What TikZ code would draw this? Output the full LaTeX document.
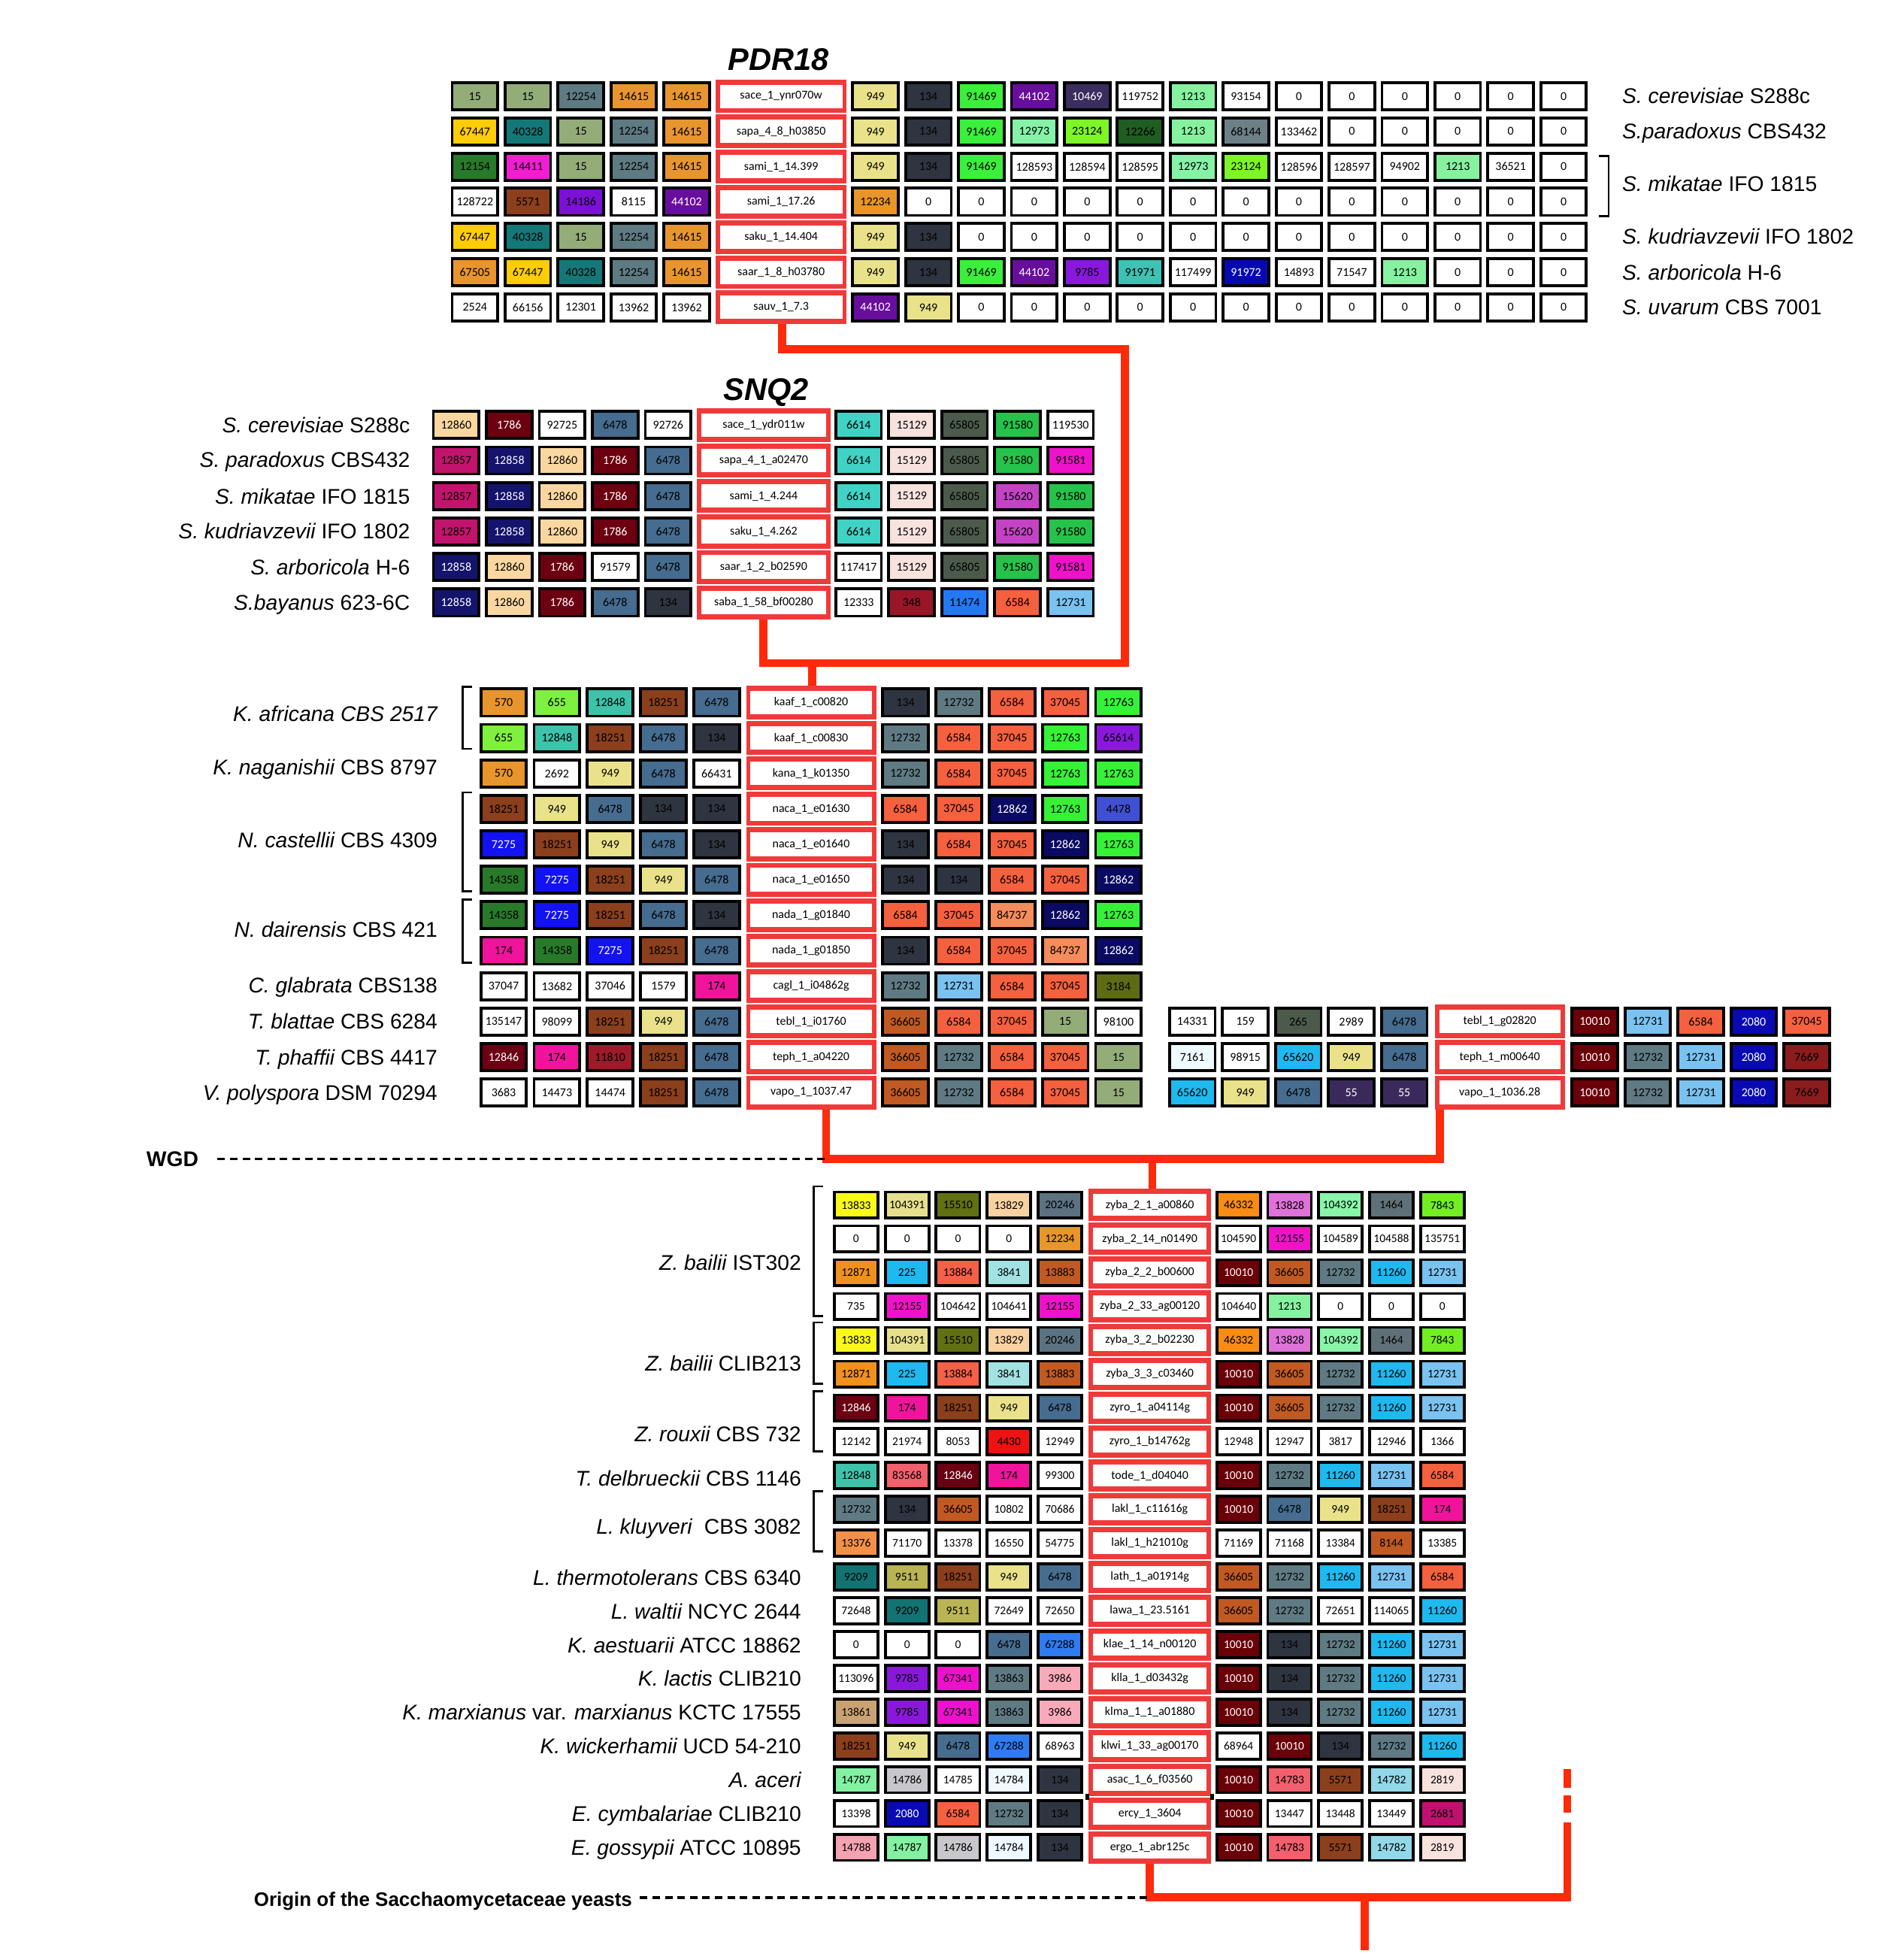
\documentclass[tikz,border=0pt]{standalone}
\usepackage{fontspec}
\setmainfont{Liberation Sans}
\newfontfamily\cellfont{Carlito}
\makeatletter
\newcommand\setc[2]{\expandafter\def\csname cc@#1\endcsname{#2}}
\newcommand\setw[2]{\setc{#1}{#2}\expandafter\def\csname cw@#1\endcsname{}}
\newcommand\pickcol[1]{%
  \ifcsname cc@#1\endcsname
    \edef\pcx{\noexpand\definecolor{cfill}{HTML}{\csname cc@#1\endcsname}}\pcx
  \else\definecolor{cfill}{HTML}{FFFFFF}\fi
  \ifcsname cw@#1\endcsname\def\tcol{white}\else\def\tcol{black}\fi}
\makeatother
% colours of the gene families
\setc{15}{93AC78}\setc{12254}{5E7A82}\setc{14615}{E89530}\setc{949}{EAE28A}
\setc{134}{2E3440}\setc{91469}{3AF03A}\setw{44102}{680E9C}\setw{10469}{3B2D5E}
\setc{1213}{86F2A0}\setc{67447}{FFCC08}\setc{40328}{147878}\setc{12973}{86F2A8}
\setc{23124}{7EF526}\setc{12266}{1F5E20}\setc{68144}{6E8087}\setc{12154}{277A2A}
\setc{14411}{F01ED2}\setc{5571}{8C3F1C}\setc{14186}{7C10D4}\setc{12234}{E8952A}
\setc{67505}{E8952D}\setc{9785}{8A18DC}\setc{91971}{3DC2B4}\setw{91972}{0808B0}
\setc{12860}{FAD7A0}\setw{1786}{6C0010}\setc{6478}{466C8F}\setc{6614}{40D2C4}
\setc{15129}{F8E2DE}\setc{65805}{4B5A4A}\setc{91580}{26C24C}\setc{12857}{C2146C}
\setw{12858}{14146C}\setc{91581}{EF12CA}\setc{15620}{C443C4}\setc{348}{981628}
\setc{11474}{2479F2}\setc{6584}{F5603F}\setc{12731}{7AC2F0}\setc{570}{E8952D}
\setc{655}{7EF03E}\setc{12848}{3EC2AA}\setc{18251}{8B3F1C}\setc{12732}{5F7A82}
\setc{37045}{F5603F}\setc{12763}{36F236}\setc{65614}{8A18DC}\setw{12862}{0A0A62}
\setc{4478}{4050D2}\setw{7275}{1212F2}\setc{14358}{287A2A}\setc{84737}{F58C5C}
\setc{174}{F0149C}\setc{3184}{5D6C14}\setc{36605}{C05A22}\setw{12846}{6A0012}
\setc{11810}{A0192A}\setc{265}{4B5A4A}\setc{7161}{EEFAFF}\setc{65620}{1EB9EE}
\setw{55}{3A2A5C}\setw{10010}{6A0008}\setw{2080}{0A0AB4}\setc{7669}{8B1C1E}
\setc{13833}{F8F81A}\setc{104391}{E6E08C}\setc{15510}{607012}\setc{13829}{FAD2A2}
\setc{20246}{5B7282}\setc{46332}{F88C14}\setc{13828}{DE72D8}\setc{104392}{88F5A8}
\setc{1464}{5F7079}\setc{7843}{72EE22}\setc{12155}{F012CA}\setc{12871}{F0901E}
\setc{225}{1EB9EE}\setc{13884}{F56048}\setc{3841}{A2E2E2}\setc{13883}{C05A22}
\setc{11260}{1EB9EE}\setc{4430}{F01212}\setc{83568}{F2606E}\setc{13376}{F29048}
\setc{8144}{C05A22}\setc{9209}{137272}\setc{9511}{BAB454}\setc{67288}{2F7BF0}
\setc{67341}{EE10CC}\setc{13863}{5F7A82}\setc{3986}{F8AABA}\setc{13861}{C9A274}
\setc{14787}{82F2A2}\setc{14786}{C8C8CC}\setc{14784}{EEFAFF}\setc{14783}{F2606E}
\setc{14782}{92D8E8}\setc{2819}{F8E2DE}\setc{2681}{C01070}\setc{14788}{F4A2B2}
\definecolor{geneRed}{HTML}{EF3A3A}
\definecolor{lineRed}{HTML}{FF2A0A}
\tikzset{
  cellA/.style={draw=black, line width=2.3pt, minimum width=36.5pt, minimum height=21.7pt,
    inner sep=0pt, outer sep=0pt, font=\cellfont\fontsize{9.6}{10}\selectfont},
  cellB/.style={draw=black, line width=2.3pt, minimum width=34.9pt, minimum height=20.7pt,
    inner sep=0pt, outer sep=0pt, font=\cellfont\fontsize{9.3}{10}\selectfont},
  genered/.style={fill=geneRed, draw=none, inner sep=0pt, outer sep=0pt},
  genewhite/.style={fill=white, draw=none, inner sep=0pt, outer sep=0pt,
    font=\cellfont\fontsize{9.6}{10}\selectfont},
  redline/.style={draw=lineRed, line width=6.5pt, line join=miter, line cap=butt},
  dashline/.style={draw=black, line width=2pt, dash pattern=on 6pt off 4pt},
  brk/.style={draw=black, line width=1.6pt},
  lab/.style={font=\fontsize{17}{20}\selectfont, inner sep=0pt, outer sep=0pt},
  ttl/.style={font=\bfseries\itshape\fontsize{25}{30}\selectfont, inner sep=0pt},
  boldlab/.style={font=\bfseries\fontsize{17}{20}\selectfont, inner sep=0pt},
}
\newcommand\cells[5]{%
  \foreach \v [count=\i from 0] in {#5} {%
    \pickcol{\v}%
    \node[cur, fill=cfill, text=\tcol] (#1-\i) at ({#2+\i*#4}, #3) {\v};
  }}
\newcommand\gene[6]{%
  \node[genered, minimum width=#4, minimum height=#5-1.2] (#1) at (#2,#3) {};
  \node[genewhite, minimum width=#4-7, minimum height=#5-9.5] (#1w) at (#2,#3) {#6};}
\newcommand\brow[5]{%
  \cells{#1L}{\xL}{#2}{\px}{#3}%
  \gene{#1}{\xG}{#2}{\gw}{\py}{#4}%
  \cells{#1R}{\xR}{#2}{\px}{#5}}
\newcommand\lbr[3]{\draw[brk] (#1+7.5,#2) -- (#1,#2) -- (#1,#3) -- (#1+7.5,#3);}
\begin{document}
\begin{tikzpicture}[x=1pt,y=-1pt]
\useasboundingbox (0,0) rectangle (1504,1568);
\fill[white] (0,0) rectangle (1504,1568);

% ---------------- PDR18 ----------------
\node[ttl, anchor=base] (tP) at (623,56) {PDR18};
\tikzset{cur/.style={cellA}}
\def\xL{380}\def\xG{625}\def\xR{700.5}\def\px{42.35}\def\gw{105}\def\py{28.15}
\brow{gP1}{77}{15,15,12254,14615,14615}{sace\_1\_ynr070w}{949,134,91469,44102,10469,119752,1213,93154,0,0,0,0,0,0}
\brow{gP2}{105.15}{67447,40328,15,12254,14615}{sapa\_4\_8\_h03850}{949,134,91469,12973,23124,12266,1213,68144,133462,0,0,0,0,0}
\brow{gP3}{133.3}{12154,14411,15,12254,14615}{sami\_1\_14.399}{949,134,91469,128593,128594,128595,12973,23124,128596,128597,94902,1213,36521,0}
\brow{gP4}{161.45}{128722,5571,14186,8115,44102}{sami\_1\_17.26}{12234,0,0,0,0,0,0,0,0,0,0,0,0,0}
\brow{gP5}{189.6}{67447,40328,15,12254,14615}{saku\_1\_14.404}{949,134,0,0,0,0,0,0,0,0,0,0,0,0}
\brow{gP6}{217.75}{67505,67447,40328,12254,14615}{saar\_1\_8\_h03780}{949,134,91469,44102,9785,91971,117499,91972,14893,71547,1213,0,0,0}
\brow{gP7}{245.9}{2524,66156,12301,13962,13962}{sauv\_1\_7.3}{44102,949,0,0,0,0,0,0,0,0,0,0,0,0}
\node[lab, anchor=base west] (lP1) at (1298,83) {{\itshape S. cerevisiae} S288c};
\node[lab, anchor=base west] (lP2) at (1298,111) {{\itshape S.paradoxus} CBS432};
\node[lab, anchor=base west] (lP3) at (1298,153) {{\itshape S. mikatae} IFO 1815};
\node[lab, anchor=base west] (lP4) at (1298,195) {{\itshape S. kudriavzevii} IFO 1802};
\node[lab, anchor=base west] (lP5) at (1298,224) {{\itshape S. arboricola} H-6};
\node[lab, anchor=base west] (lP6) at (1298,252) {{\itshape S. uvarum} CBS 7001};
\draw[brk] (1279,125) -- (1287,125) -- (1287,173) -- (1279,173);

% ---------------- SNQ2 ----------------
\node[ttl, anchor=base] (tS) at (613,320) {SNQ2};
\def\xL{365}\def\xG{611}\def\xR{687}\def\px{42.4}\def\gw{107}\def\py{28.4}
\brow{gS1}{340}{12860,1786,92725,6478,92726}{sace\_1\_ydr011w}{6614,15129,65805,91580,119530}
\brow{gS2}{368.4}{12857,12858,12860,1786,6478}{sapa\_4\_1\_a02470}{6614,15129,65805,91580,91581}
\brow{gS3}{396.8}{12857,12858,12860,1786,6478}{sami\_1\_4.244}{6614,15129,65805,15620,91580}
\brow{gS4}{425.2}{12857,12858,12860,1786,6478}{saku\_1\_4.262}{6614,15129,65805,15620,91580}
\brow{gS5}{453.6}{12858,12860,1786,91579,6478}{saar\_1\_2\_b02590}{117417,15129,65805,91580,91581}
\brow{gS6}{482}{12858,12860,1786,6478,134}{saba\_1\_58\_bf00280}{12333,348,11474,6584,12731}
\node[lab, anchor=base east] (lS1) at (328,346) {{\itshape S. cerevisiae} S288c};
\node[lab, anchor=base east] (lS2) at (328,374) {{\itshape S. paradoxus} CBS432};
\node[lab, anchor=base east] (lS3) at (328,403) {{\itshape S. mikatae} IFO 1815};
\node[lab, anchor=base east] (lS4) at (328,431) {{\itshape S. kudriavzevii} IFO 1802};
\node[lab, anchor=base east] (lS5) at (328,460) {{\itshape S. arboricola} H-6};
\node[lab, anchor=base east] (lS6) at (328,488) {{\itshape S.bayanus} 623-6C};

% ---------------- pre-WGD / post-WGD block ----------------
\def\xL{403}\def\xG{649}\def\xR{724.5}\def\px{42.6}\def\gw{104}\def\py{28.36}
\brow{gM1}{562}{570,655,12848,18251,6478}{kaaf\_1\_c00820}{134,12732,6584,37045,12763}
\brow{gM2}{590.36}{655,12848,18251,6478,134}{kaaf\_1\_c00830}{12732,6584,37045,12763,65614}
\brow{gM3}{618.72}{570,2692,949,6478,66431}{kana\_1\_k01350}{12732,6584,37045,12763,12763}
\brow{gM4}{647.08}{18251,949,6478,134,134}{naca\_1\_e01630}{6584,37045,12862,12763,4478}
\brow{gM5}{675.44}{7275,18251,949,6478,134}{naca\_1\_e01640}{134,6584,37045,12862,12763}
\brow{gM6}{703.8}{14358,7275,18251,949,6478}{naca\_1\_e01650}{134,134,6584,37045,12862}
\brow{gM7}{732.16}{14358,7275,18251,6478,134}{nada\_1\_g01840}{6584,37045,84737,12862,12763}
\brow{gM8}{760.52}{174,14358,7275,18251,6478}{nada\_1\_g01850}{134,6584,37045,84737,12862}
\brow{gM9}{788.88}{37047,13682,37046,1579,174}{cagl\_1\_i04862g}{12732,12731,6584,37045,3184}
\brow{gM10}{817.24}{135147,98099,18251,949,6478}{tebl\_1\_i01760}{36605,6584,37045,15,98100}
\brow{gM11}{845.6}{12846,174,11810,18251,6478}{teph\_1\_a04220}{36605,12732,6584,37045,15}
\brow{gM12}{873.96}{3683,14473,14474,18251,6478}{vapo\_1\_1037.47}{36605,12732,6584,37045,15}
\def\xL{954}\def\xG{1200}\def\xR{1276}\def\px{42.4}\def\gw{104}\def\py{28.36}
\brow{gR1}{817.24}{14331,159,265,2989,6478}{tebl\_1\_g02820}{10010,12731,6584,2080,37045}
\brow{gR2}{845.6}{7161,98915,65620,949,6478}{teph\_1\_m00640}{10010,12732,12731,2080,7669}
\brow{gR3}{873.96}{65620,949,6478,55,55}{vapo\_1\_1036.28}{10010,12732,12731,2080,7669}
\node[lab, anchor=base east] (lM1) at (350,577) {{\itshape K. africana CBS 2517}};
\node[lab, anchor=base east] (lM2) at (350,620) {{\itshape K. naganishii} CBS 8797};
\node[lab, anchor=base east] (lM3) at (350,678) {{\itshape N. castellii} CBS 4309};
\node[lab, anchor=base east] (lM4) at (350,750) {{\itshape N. dairensis} CBS 421};
\node[lab, anchor=base east] (lM5) at (350,794) {{\itshape C. glabrata} CBS138};
\node[lab, anchor=base east] (lM6) at (350,823) {{\itshape T. blattae} CBS 6284};
\node[lab, anchor=base east] (lM7) at (350,852) {{\itshape T. phaffii} CBS 4417};
\node[lab, anchor=base east] (lM8) at (350,880) {{\itshape V. polyspora} DSM 70294};
\lbr{370}{549.5}{599}
\lbr{370}{634}{713}
\lbr{370}{719.5}{770}

% ---------------- non-WGD block ----------------
\tikzset{cur/.style={cellB}}
\def\xL{685}\def\xG{920}\def\xR{991}\def\px{40.75}\def\gw{98}\def\py{27.05}
\brow{gB1}{964}{13833,104391,15510,13829,20246}{zyba\_2\_1\_a00860}{46332,13828,104392,1464,7843}
\brow{gB2}{991.05}{0,0,0,0,12234}{zyba\_2\_14\_n01490}{104590,12155,104589,104588,135751}
\brow{gB3}{1018.1}{12871,225,13884,3841,13883}{zyba\_2\_2\_b00600}{10010,36605,12732,11260,12731}
\brow{gB4}{1045.15}{735,12155,104642,104641,12155}{zyba\_2\_33\_ag00120}{104640,1213,0,0,0}
\brow{gB5}{1072.2}{13833,104391,15510,13829,20246}{zyba\_3\_2\_b02230}{46332,13828,104392,1464,7843}
\brow{gB6}{1099.25}{12871,225,13884,3841,13883}{zyba\_3\_3\_c03460}{10010,36605,12732,11260,12731}
\brow{gB7}{1126.3}{12846,174,18251,949,6478}{zyro\_1\_a04114g}{10010,36605,12732,11260,12731}
\brow{gB8}{1153.35}{12142,21974,8053,4430,12949}{zyro\_1\_b14762g}{12948,12947,3817,12946,1366}
\brow{gB9}{1180.4}{12848,83568,12846,174,99300}{tode\_1\_d04040}{10010,12732,11260,12731,6584}
\brow{gB10}{1207.45}{12732,134,36605,10802,70686}{lakl\_1\_c11616g}{10010,6478,949,18251,174}
\brow{gB11}{1234.5}{13376,71170,13378,16550,54775}{lakl\_1\_h21010g}{71169,71168,13384,8144,13385}
\brow{gB12}{1261.55}{9209,9511,18251,949,6478}{lath\_1\_a01914g}{36605,12732,11260,12731,6584}
\brow{gB13}{1288.6}{72648,9209,9511,72649,72650}{lawa\_1\_23.5161}{36605,12732,72651,114065,11260}
\brow{gB14}{1315.65}{0,0,0,6478,67288}{klae\_1\_14\_n00120}{10010,134,12732,11260,12731}
\brow{gB15}{1342.7}{113096,9785,67341,13863,3986}{klla\_1\_d03432g}{10010,134,12732,11260,12731}
\brow{gB16}{1369.75}{13861,9785,67341,13863,3986}{klma\_1\_1\_a01880}{10010,134,12732,11260,12731}
\brow{gB17}{1396.8}{18251,949,6478,67288,68963}{klwi\_1\_33\_ag00170}{68964,10010,134,12732,11260}
\brow{gB18}{1423.85}{14787,14786,14785,14784,134}{asac\_1\_6\_f03560}{10010,14783,5571,14782,2819}
\brow{gB19}{1450.9}{13398,2080,6584,12732,134}{ercy\_1\_3604}{10010,13447,13448,13449,2681}
\brow{gB20}{1477.95}{14788,14787,14786,14784,134}{ergo\_1\_abr125c}{10010,14783,5571,14782,2819}
\fill[black] (868.5,1435) rectangle (871.5,1440);
\fill[black] (968.5,1435) rectangle (971.5,1440);
\node[lab, anchor=base east] (lB1) at (641,1016) {{\itshape Z. bailii} IST302};
\node[lab, anchor=base east] (lB2) at (641,1097) {{\itshape Z. bailii} CLIB213};
\node[lab, anchor=base east] (lB3) at (641,1153) {{\itshape Z. rouxii} CBS 732};
\node[lab, anchor=base east] (lB4) at (641,1189) {{\itshape T. delbrueckii} CBS 1146};
\node[lab, anchor=base east] (lB5) at (641,1227) {{\itshape L. kluyveri}\hspace{0.3em} CBS 3082};
\node[lab, anchor=base east] (lB6) at (641,1268) {{\itshape L. thermotolerans} CBS 6340};
\node[lab, anchor=base east] (lB7) at (641,1295) {{\itshape L. waltii} NCYC 2644};
\node[lab, anchor=base east] (lB8) at (641,1322) {{\itshape K. aestuarii} ATCC 18862};
\node[lab, anchor=base east] (lB9) at (641,1349) {{\itshape K. lactis} CLIB210};
\node[lab, anchor=base east] (lB10) at (641,1376) {{\itshape K. marxianus} var. {\itshape marxianus} KCTC 17555};
\node[lab, anchor=base east] (lB11) at (641,1403) {{\itshape K. wickerhamii} UCD 54-210};
\node[lab, anchor=base east] (lB12) at (641,1430) {{\itshape A. aceri}};
\node[lab, anchor=base east] (lB13) at (641,1457) {{\itshape E. cymbalariae} CLIB210};
\node[lab, anchor=base east] (lB14) at (641,1484) {{\itshape E. gossypii} ATCC 10895};
\lbr{651}{949}{1053}
\lbr{651}{1058}{1107}
\lbr{651}{1113}{1161}
\lbr{651}{1193}{1241}

% ---------------- connectors ----------------
\coordinate (jP) at (626,279.5);
\coordinate (tr) at (900,279.5);
\coordinate (br) at (900,530.5);
\coordinate (bl) at (611,530.5);
\coordinate (jM) at (650,530.5);
\draw[redline] (gP7.south -| jP) -- (jP) -- (tr) -- (br) -- (bl) -- (gS6.south -| bl);
\draw[redline] (jM) -- (gM1.north -| jM);

\coordinate (w1) at (661,927);
\coordinate (w2) at (1152,927);
\coordinate (wM) at (922,927);
\draw[redline] (gM12.south -| w1) -- (w1) -- (w2) -- (gR3.south -| w2);
\draw[redline] (wM) -- (gB1.north -| wM);
\node[boldlab, anchor=base] (wgd) at (138,933) {WGD};
\coordinate (wd) at (174,927);
\draw[dashline] (wd) -- (w1);

\coordinate (o1) at (920,1518);
\coordinate (o2) at (1254,1518);
\coordinate (o3) at (1254,1458);
\coordinate (o4) at (1254,1450);
\coordinate (o5) at (1254,1436);
\coordinate (o6) at (1254,1430);
\coordinate (o7) at (1254,1415);
\coordinate (oM) at (1092,1518);
\coordinate (oB) at (1092,1560);
\draw[redline] (gB20.south -| o1) -- (o1) -- (o2) -- (o3);
\draw[redline] (o4) -- (o5);
\draw[redline] (o6) -- (o7);
\draw[redline] (oM) -- (oB);
\node[boldlab, anchor=base east, font=\bfseries\fontsize{15.6}{18}\selectfont] (orig) at (506,1525) {Origin of the Sacchaomycetaceae yeasts};
\coordinate (od) at (512,1518);
\draw[dashline] (od) -- (o1);
\end{tikzpicture}
\end{document}
